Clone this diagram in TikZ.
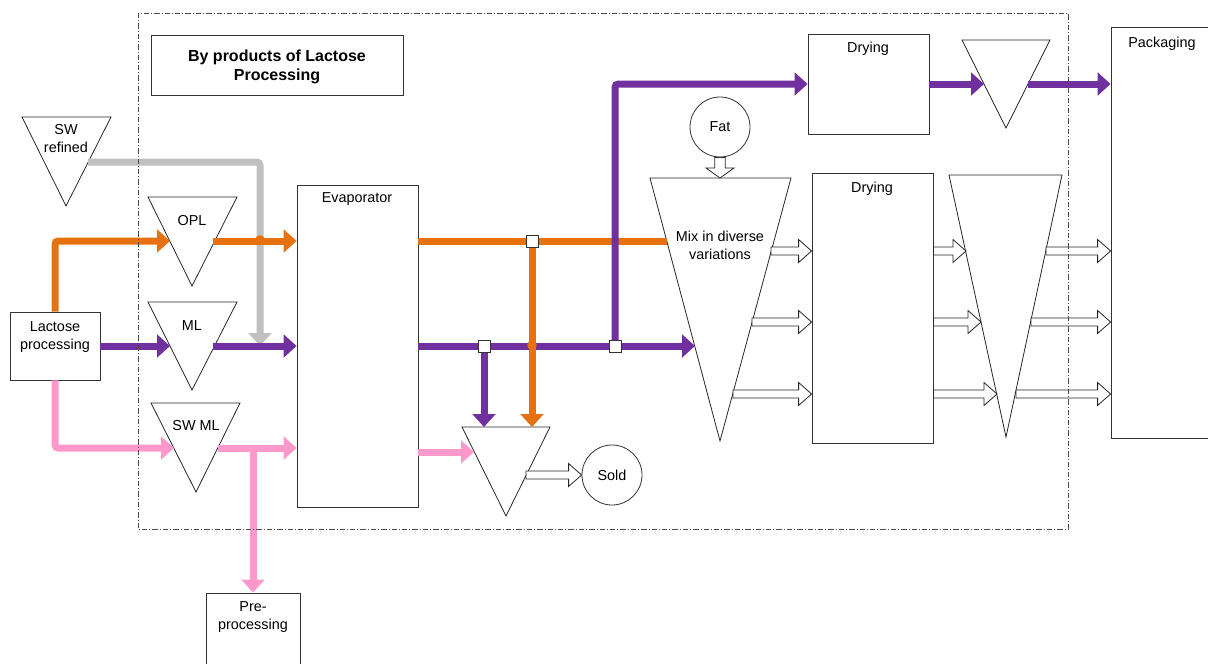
\documentclass[tikz,border=0pt]{standalone}
\usepackage{fontspec}
\setmainfont{Liberation Sans}
\usetikzlibrary{arrows.meta,calc}

\definecolor{flowOrange}{HTML}{E8710F}
\definecolor{flowPurple}{HTML}{7030A0}
\definecolor{flowPink}{HTML}{FF99CC}
\definecolor{flowGray}{HTML}{C0C0C0}

\tikzset{
  box/.style={draw=black!80, line width=0.6pt, inner sep=0pt},
  tank/.style={draw=black!85, line width=0.6pt},
  lbl/.style={inner sep=0pt, align=center},
  pipe/.style={line width=5.25pt},
  flow/.style={pipe, rounded corners=2.5pt, -{Triangle[width=17pt,length=9.75pt]}},
  junc/.style={draw=black!80, fill=white, line width=0.6pt, minimum size=9pt, inner sep=0pt},
  frame/.style={draw=black!70, line width=0.5pt, dash pattern=on 4pt off 1.5pt on 0.8pt off 1.5pt},
  hollow/.style={fill=white, draw=black!85, line width=0.6pt},
  hollowR/.style={hollow, to path={let \p1=(\tikztostart), \p2=(\tikztotarget) in
    (\x1,\y1+3pt) -- (\x2-9.75pt,\y1+3pt) -- (\x2-9.75pt,\y1+8.6pt) -- (\x2,\y1)
    -- (\x2-9.75pt,\y1-8.6pt) -- (\x2-9.75pt,\y1-3pt) -- (\x1,\y1-3pt) -- cycle}},
  hollowD/.style={hollow, to path={let \p1=(\tikztostart), \p2=(\tikztotarget) in
    (\x1-4pt,\y1) -- (\x1-4pt,\y2+7.5pt) -- (\x1-10.5pt,\y2+7.5pt) -- (\x1,\y2)
    -- (\x1+10.5pt,\y2+7.5pt) -- (\x1+4pt,\y2+7.5pt) -- (\x1+4pt,\y1) -- cycle}}
}

\begin{document}
\begin{tikzpicture}[x=0.75pt, y=-0.75pt, every node/.style={font=\fontsize{10.8pt}{13pt}\selectfont}]
    \clip (0,0) rectangle (1208,664);

    % boxes and vessels
    \node[box, minimum width=189pt, minimum height=45pt, align=center,
          font=\fontsize{12pt}{14.25pt}\selectfont\bfseries] (title) at (277,65) {};
    \node[lbl, font=\fontsize{12pt}{14.25pt}\selectfont\bfseries] (titleT) at (277,66.5) {By products of Lactose\\Processing};
    \node[box, minimum width=67.5pt, minimum height=51pt] (lac) at (55,346) {};
    \node[lbl] (lacT) at (55,337) {Lactose\\processing};
    \node[box, minimum width=90.75pt, minimum height=241.5pt] (evap) at (357.5,346) {};
    \node[lbl] (evapT) at (357,199.5) {Evaporator};
    \node[box, minimum width=70.5pt, minimum height=65.25pt] (pre) at (253,636.5) {};
    \node[lbl] (preT) at (253,617) {Pre-\\processing};
    \node[box, minimum width=90.75pt, minimum height=75pt] (dry1) at (868.5,84) {};
    \node[lbl] (dry1T) at (868,48.5) {Drying};
    \node[box, minimum width=90.75pt, minimum height=202.5pt] (dry2) at (872.5,308) {};
    \node[lbl] (dry2T) at (872,188.5) {Drying};
    \node[box, minimum width=89.25pt, minimum height=308.25pt] (pack) at (1170.5,232.5) {};
    \node[lbl] (packT) at (1162,43.5) {Packaging};
    \node[box, circle, minimum size=45pt] (sold) at (612,475) {Sold};
    \node[box, circle, minimum size=45pt] (fat) at (720,127) {Fat};

    \draw[tank] (22,117) -- (111,117) -- (66,206) -- cycle;
    \node[lbl] (swrT) at (66,138.5) {SW\\refined};
    \draw[tank] (148,197) -- (237,197) -- (192,286) -- cycle;
    \node[lbl] (oplT) at (192,220.5) {OPL};
    \draw[tank] (148,302) -- (237,302) -- (192,390) -- cycle;
    \node[lbl] (mlT) at (192,325.5) {ML};
    \draw[tank] (151,403) -- (240,403) -- (196,492) -- cycle;
    \node[lbl] (swmlT) at (196,425.5) {SW ML};
    \draw[tank] (462,427) -- (550,427) -- (506,516) -- cycle;
    \draw[tank] (650,178) -- (791,178) -- (720,441) -- cycle;
    \node[lbl] (mixT) at (720,245.5) {Mix in diverse\\variations};
    \draw[tank] (962,40) -- (1050,40) -- (1006,128) -- cycle;
    \draw[tank] (949,175) -- (1062,175) -- (1006,437) -- cycle;

    % connection points
    \coordinate (swrOut) at (88,162);
    \coordinate (oplIn) at (170,241);
    \coordinate (oplOut) at (213,241);
    \coordinate (mlIn) at (170,346);
    \coordinate (mlOut) at (213,346);
    \coordinate (mlJoin) at (260,346);
    \coordinate (swmlIn) at (174,448);
    \coordinate (swmlOut) at (218,448);
    \coordinate (pkSplit) at (253,448);
    \coordinate (mixOr) at (667,241);
    \coordinate (mixPu) at (695,346);
    \coordinate (j1) at (532,241);
    \coordinate (j2) at (484,346);
    \coordinate (j3) at (615,346);
    \coordinate (colPu) at (484,427);
    \coordinate (colOr) at (532,427);
    \coordinate (evPk) at (418,452);
    \coordinate (colPk) at (474,452);
    \coordinate (colOut) at (526,475);
    \coordinate (mixTop) at (720,178);
    \coordinate (tri1In) at (984,84);
    \coordinate (tri1Out) at (1028,84);
    \coordinate (hop1) at (260,240);
    \coordinate (hop2) at (532,345);

    % gray
    \draw[flow, flowGray] (swrOut) -| (mlJoin);
    % purple
    \draw[flow, flowPurple] (lac.east) -- (mlIn);
    \draw[flow, flowPurple] (mlOut) -- (evap.west |- mlOut);
    \draw[flow, flowPurple] (evap.east |- mlOut) -- (mixPu);
    \draw[flow, flowPurple] (j2) -- (colPu);
    % orange
    \draw[flow, flowOrange] (lac.north) |- (oplIn);
    \draw[flow, flowOrange] (oplOut) -- (evap.west |- oplOut);
    \draw[pipe, flowOrange] (evap.east |- oplOut) -- (mixOr);
    \draw[flow, flowOrange] (j1) -- (colOr);
    \fill[flowOrange] (hop1) circle (3.6pt);
    \fill[flowOrange] (hop2) circle (3.6pt);
    % pink
    \draw[flow, flowPink] (lac.south) |- (swmlIn);
    \draw[flow, flowPink] (swmlOut) -- (evap.west |- swmlOut);
    \draw[flow, flowPink] (pkSplit) -- (pre.north);
    \draw[flow, flowPink] (evPk) -- (colPk);
    % purple to drying
    \draw[flow, flowPurple] (j3) |- (dry1.west);
    \draw[flow, flowPurple] (dry1.east) -- (tri1In);
    \draw[flow, flowPurple] (tri1Out) -- (pack.west |- tri1Out);

    \node[junc] (jb1) at (j1) {};
    \node[junc] (jb2) at (j2) {};
    \node[junc] (jb3) at (j3) {};

    % hollow arrows
    \path[hollowR] (colOut) to (sold.west);
    \path[hollowD] (fat.south) to (mixTop);
    \coordinate (m1) at (771,251);
    \coordinate (m2) at (752,322);
    \coordinate (m3) at (733,394);
    \coordinate (t1) at (966,251);
    \coordinate (t2) at (981,322);
    \coordinate (t3) at (997,394);
    \coordinate (u1) at (1046,251);
    \coordinate (u2) at (1031,322);
    \coordinate (u3) at (1016,394);
    \path[hollowR] (m1) to (dry2.west |- m1);
    \path[hollowR] (m2) to (dry2.west |- m2);
    \path[hollowR] (m3) to (dry2.west |- m3);
    \path[hollowR] (dry2.east |- t1) to (t1);
    \path[hollowR] (dry2.east |- t2) to (t2);
    \path[hollowR] (dry2.east |- t3) to (t3);
    \path[hollowR] (u1) to (pack.west |- u1);
    \path[hollowR] (u2) to (pack.west |- u2);
    \path[hollowR] (u3) to (pack.west |- u3);

    % by-products boundary
    \draw[frame] (138,13) rectangle (1068,529);
\end{tikzpicture}
\end{document}
